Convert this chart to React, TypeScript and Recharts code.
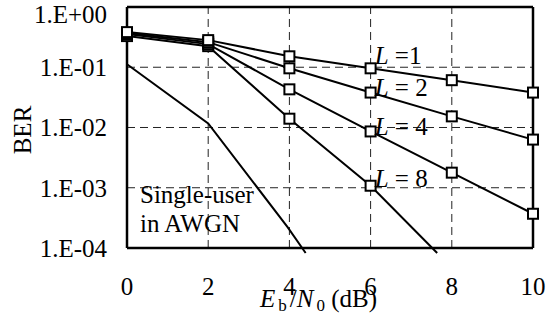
import {
  Line,
  LineChart,
  ReferenceDot,
  ReferenceLine,
  XAxis,
  YAxis,
} from "recharts";

const FONT = "Liberation Serif, Times New Roman, serif";
const FS = 25;

// Eb/N0 (dB) sample points
const snrMarked = [0, 2, 4, 6, 8, 10];
const berL1 = [0.383, 0.282, 0.152, 0.096, 0.061, 0.038];
const berL2 = [0.369, 0.261, 0.096, 0.038, 0.0153, 0.0063];
const berL4 = [0.355, 0.242, 0.043, 0.0086, 0.00178, 0.00037];
const snrL8 = [0, 2, 4, 6, 7.64];
const berL8 = [0.329, 0.224, 0.014, 0.00108, 0.0000826];
const snrAwgn = [0, 2, 3.96, 4.4];
const berAwgn = [0.112, 0.0117, 0.00022, 0.0000826];

const xTicks = [0, 2, 4, 6, 8, 10];
const yTicks = [1e-4, 1e-3, 1e-2, 1e-1, 1];
const Y_MIN = 0.0000826;

type Pt = { snr: number; ber: number };
const toPts = (xs: number[], ys: number[]): Pt[] =>
  xs.map((x, i) => ({ snr: x, ber: ys[i] }));

const seriesL1 = toPts(snrMarked, berL1);
const seriesL2 = toPts(snrMarked, berL2);
const seriesL4 = toPts(snrMarked, berL4);
const seriesL8 = toPts(snrL8, berL8);
const seriesAwgn = toPts(snrAwgn, berAwgn);

function fmtExp(v: number): string {
  const e = Math.round(Math.log10(v));
  const sign = e < 0 ? "-" : "+";
  return `1.E${sign}${String(Math.abs(e)).padStart(2, "0")}`;
}

function SquareDot(props: any) {
  const { cx, cy, payload, index } = props;
  if (cx == null || cy == null || !Number.isInteger(payload?.snr)) {
    return <g key={`d-${index}`} />;
  }
  const s = 10;
  return (
    <rect
      key={`d-${index}`}
      x={cx - s / 2}
      y={cy - s / 2}
      width={s}
      height={s}
      fill="#fff"
      stroke="#000"
      strokeWidth={2}
    />
  );
}

function lLabel(n: string, spaced: boolean) {
  return (props: any) => {
    const vb = props.viewBox ?? {};
    return (
      <text x={vb.x} y={vb.y} style={{ fontFamily: FONT, fontSize: FS }} fill="#000">
        <tspan fontStyle="italic">L</tspan>
        <tspan>{spaced ? ` = ${n}` : ` =${n}`}</tspan>
      </text>
    );
  };
}

function awgnLabel(props: any) {
  const vb = props.viewBox ?? {};
  return (
    <text x={vb.x} y={vb.y} style={{ fontFamily: FONT, fontSize: FS }} fill="#000">
      <tspan x={vb.x}>Single-user</tspan>
      <tspan x={vb.x} dy={29}>
        in AWGN
      </tspan>
    </text>
  );
}

function XTitle() {
  return (
    <text x={260} y={307} style={{ fontFamily: FONT, fontSize: FS }} fill="#000">
      <tspan fontStyle="italic">E</tspan>
      <tspan fontSize={17} dy={4} dx={3}>b</tspan>
      <tspan dy={-4} dx={3}>/</tspan>
      <tspan fontStyle="italic">N</tspan>
      <tspan fontSize={17} dy={4} dx={3}>0</tspan>
      <tspan dy={-4}> (dB)</tspan>
    </text>
  );
}

const frame = [
  [{ x: 0, y: 1e-4 }, { x: 10, y: 1e-4 }],
  [{ x: 0, y: 1 }, { x: 10, y: 1 }],
  [{ x: 0, y: 1e-4 }, { x: 0, y: 1 }],
  [{ x: 10, y: 1e-4 }, { x: 10, y: 1 }],
];

export default function App() {
  const tick = { fill: "#000", fontSize: FS, fontFamily: FONT };
  return (
    <div style={{ position: "absolute", left: 0, top: 0, background: "#fff", fontFamily: FONT }}>
      <LineChart
        width={557}
        height={324}
        margin={{ top: 7, right: 24, bottom: 0, left: 0 }}
      >
        <XAxis
          type="number"
          dataKey="snr"
          domain={[0, 10]}
          ticks={xTicks}
          axisLine={false}
          tickLine={false}
          tickSize={0}
          tickMargin={24}
          height={71}
          tick={tick}
          label={<XTitle />}
        />
        <YAxis
          type="number"
          dataKey="ber"
          scale="log"
          domain={[Y_MIN, 1]}
          ticks={yTicks}
          axisLine={false}
          tickLine={false}
          tickSize={0}
          tickMargin={20}
          width={127}
          tick={tick}
          tickFormatter={fmtExp}
          label={{
            value: "BER",
            angle: -90,
            position: "insideLeft",
            offset: 22,
            style: { fill: "#000", fontSize: FS, fontFamily: FONT, textAnchor: "middle" },
          }}
        />
        {[1e-3, 1e-2, 1e-1].map((y) => (
          <ReferenceLine
            key={`h${y}`}
            segment={[
              { x: 0, y },
              { x: 10, y },
            ]}
            stroke="#222"
            strokeDasharray="8 5"
          />
        ))}
        {[2, 4, 6, 8].map((x) => (
          <ReferenceLine
            key={`v${x}`}
            segment={[
              { x, y: 1e-4 },
              { x, y: 1 },
            ]}
            stroke="#222"
            strokeDasharray="8 5"
          />
        ))}
        <Line data={seriesAwgn} dataKey="ber" stroke="#000" strokeWidth={2} dot={false} isAnimationActive={false} />
        <Line data={seriesL8} dataKey="ber" stroke="#000" strokeWidth={2} dot={SquareDot} isAnimationActive={false} />
        <Line data={seriesL4} dataKey="ber" stroke="#000" strokeWidth={2} dot={SquareDot} isAnimationActive={false} />
        <Line data={seriesL2} dataKey="ber" stroke="#000" strokeWidth={2} dot={SquareDot} isAnimationActive={false} />
        <Line data={seriesL1} dataKey="ber" stroke="#000" strokeWidth={2} dot={SquareDot} isAnimationActive={false} />
        {frame.map((seg, i) => (
          <ReferenceLine
            key={`f${i}`}
            segment={seg}
            ifOverflow="visible"
            stroke="#000"
            strokeWidth={2.5}
          />
        ))}
        <ReferenceDot x={6.1} y={0.112} r={0} label={lLabel("1", false)} />
        <ReferenceDot x={6.1} y={0.0329} r={0} label={lLabel("2", true)} />
        <ReferenceDot x={6.1} y={0.00764} r={0} label={lLabel("4", true)} />
        <ReferenceDot x={6.1} y={0.00104} r={0} label={lLabel("8", true)} />
        <ReferenceDot x={0.32} y={0.00056} r={0} label={awgnLabel} />
      </LineChart>
    </div>
  );
}
